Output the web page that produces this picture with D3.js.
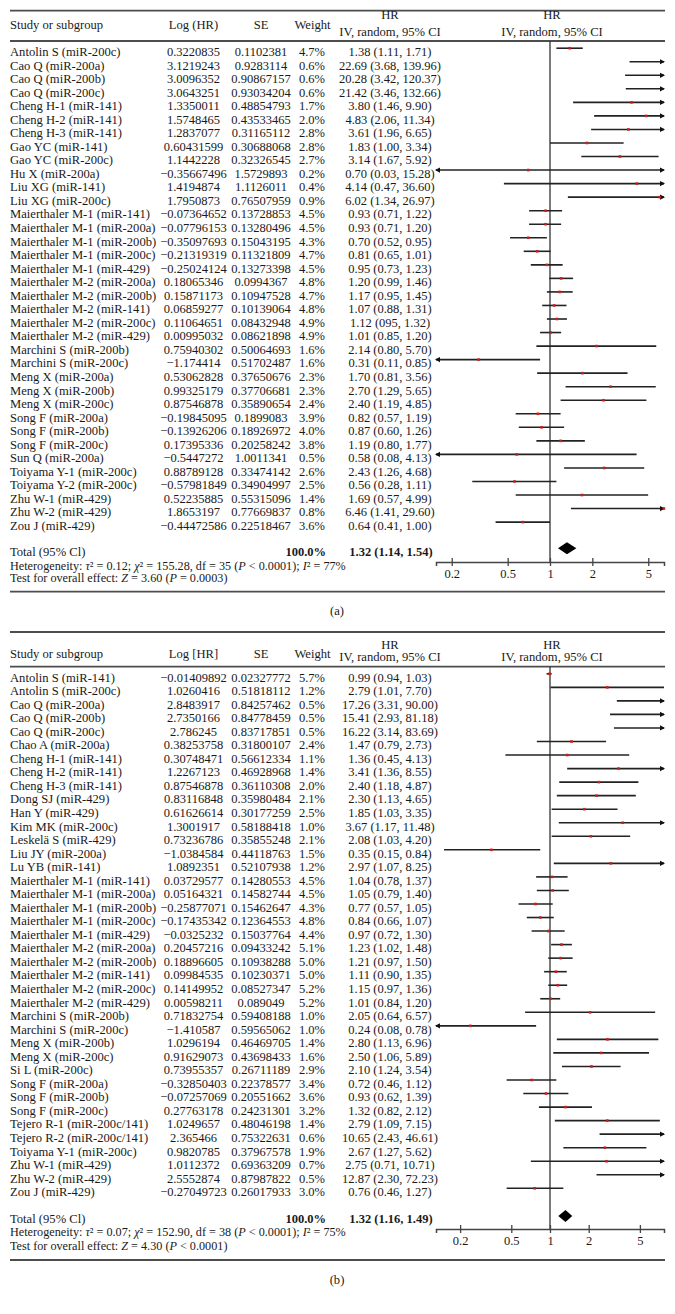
<!DOCTYPE html>
<html lang="en">
<head>
<meta charset="utf-8">
<script src="https://cdn.jsdelivr.net/npm/d3@7"></script>
<style>
  body { margin: 0; background: #fff; }
  svg text { font-family: "Liberation Serif", "Times New Roman", serif; font-size: 12.6px; fill: #1a1a1a; }
  svg text.num { font-size: 12.5px; }
  svg text.note { font-size: 12.2px; }
</style>
</head>
<body>
<script>
// ---- panel (a) ----
const studiesA = ["Antolin S (miR-200c)", "Cao Q (miR-200a)", "Cao Q (miR-200b)", "Cao Q (miR-200c)",
  "Cheng H-1 (miR-141)", "Cheng H-2 (miR-141)", "Cheng H-3 (miR-141)", "Gao YC (miR-141)", "Gao YC (miR-200c)",
  "Hu X (miR-200a)", "Liu XG (miR-141)", "Liu XG (miR-200c)", "Maierthaler M-1 (miR-141)",
  "Maierthaler M-1 (miR-200a)", "Maierthaler M-1 (miR-200b)", "Maierthaler M-1 (miR-200c)",
  "Maierthaler M-1 (miR-429)", "Maierthaler M-2 (miR-200a)", "Maierthaler M-2 (miR-200b)",
  "Maierthaler M-2 (miR-141)", "Maierthaler M-2 (miR-200c)", "Maierthaler M-2 (miR-429)",
  "Marchini S (miR-200b)", "Marchini S (miR-200c)", "Meng X (miR-200a)", "Meng X (miR-200b)",
  "Meng X (miR-200c)", "Song F (miR-200a)", "Song F (miR-200b)", "Song F (miR-200c)", "Sun Q (miR-200a)",
  "Toiyama Y-1 (miR-200c)", "Toiyama Y-2 (miR-200c)", "Zhu W-1 (miR-429)", "Zhu W-2 (miR-429)", "Zou J (miR-429)"];
const logHrA = [0.3220835, 3.1219243, 3.0096352, 3.0643251, 1.3350011, 1.5748465, 1.2837077, 0.60431599, 1.1442228,
  -0.35667496, 1.4194874, 1.7950873, -0.07364652, -0.07796153, -0.35097693, -0.21319319, -0.25024124, 0.18065346,
  0.15871173, 0.06859277, 0.11064651, 0.00995032, 0.75940302, -1.174414, 0.53062828, 0.99325179, 0.87546878,
  -0.19845095, -0.13926206, 0.17395336, -0.5447272, 0.88789128, -0.57981849, 0.52235885, 1.8653197, -0.44472586];
const seA = [0.1102381, 0.9283114, 0.90867157, 0.93034204, 0.48854793, 0.43533465, 0.31165112, 0.30688068, 0.32326545,
  1.5729893, 1.1126011, 0.76507959, 0.13728853, 0.13280496, 0.15043195, 0.11321809, 0.13273398, 0.0994367,
  0.10947528, 0.10139064, 0.08432948, 0.08621898, 0.50064693, 0.51702487, 0.37650676, 0.37706681, 0.35890654,
  0.1899083, 0.18926972, 0.20258242, 1.0011341, 0.33474142, 0.34904997, 0.55315096, 0.77669837, 0.22518467];
const weightA = [4.7, 0.6, 0.6, 0.6, 1.7, 2.0, 2.8, 2.8, 2.7, 0.2, 0.4, 0.9, 4.5, 4.5, 4.3, 4.7, 4.5, 4.8, 4.7, 4.8,
  4.9, 4.9, 1.6, 1.6, 2.3, 2.3, 2.4, 3.9, 4.0, 3.8, 0.5, 2.6, 2.5, 1.4, 0.8, 3.6];
const hrA = [1.38, 22.69, 20.28, 21.42, 3.80, 4.83, 3.61, 1.83, 3.14, 0.70, 4.14, 6.02, 0.93, 0.93, 0.70, 0.81, 0.95,
  1.20, 1.17, 1.07, 1.12, 1.01, 2.14, 0.31, 1.70, 2.70, 2.40, 0.82, 0.87, 1.19, 0.58, 2.43, 0.56, 1.69, 6.46, 0.64];
const loA = [1.11, 3.68, 3.42, 3.46, 1.46, 2.06, 1.96, 1.00, 1.67, 0.03, 0.47, 1.34, 0.71, 0.71, 0.52, 0.65, 0.73,
  0.99, 0.95, 0.88, 0.95, 0.85, 0.80, 0.11, 0.81, 1.29, 1.19, 0.57, 0.60, 0.80, 0.08, 1.26, 0.28, 0.57, 1.41, 0.41];
const hiA = [1.71, 139.96, 120.37, 132.66, 9.90, 11.34, 6.65, 3.34, 5.92, 15.28, 36.60, 26.97, 1.22, 1.20, 0.95, 1.01,
  1.23, 1.46, 1.45, 1.31, 1.32, 1.20, 5.70, 0.85, 3.56, 5.65, 4.85, 1.19, 1.26, 1.77, 4.13, 4.68, 1.11, 4.99, 29.60, 1.00];
// printed HR text (keeps the source's "095")
const ciTextA = ["1.38 (1.11, 1.71)", "22.69 (3.68, 139.96)", "20.28 (3.42, 120.37)", "21.42 (3.46, 132.66)",
  "3.80 (1.46, 9.90)", "4.83 (2.06, 11.34)", "3.61 (1.96, 6.65)", "1.83 (1.00, 3.34)", "3.14 (1.67, 5.92)",
  "0.70 (0.03, 15.28)", "4.14 (0.47, 36.60)", "6.02 (1.34, 26.97)", "0.93 (0.71, 1.22)", "0.93 (0.71, 1.20)",
  "0.70 (0.52, 0.95)", "0.81 (0.65, 1.01)", "0.95 (0.73, 1.23)", "1.20 (0.99, 1.46)", "1.17 (0.95, 1.45)",
  "1.07 (0.88, 1.31)", "1.12 (095, 1.32)", "1.01 (0.85, 1.20)", "2.14 (0.80, 5.70)", "0.31 (0.11, 0.85)",
  "1.70 (0.81, 3.56)", "2.70 (1.29, 5.65)", "2.40 (1.19, 4.85)", "0.82 (0.57, 1.19)", "0.87 (0.60, 1.26)",
  "1.19 (0.80, 1.77)", "0.58 (0.08, 4.13)", "2.43 (1.26, 4.68)", "0.56 (0.28, 1.11)", "1.69 (0.57, 4.99)",
  "6.46 (1.41, 29.60)", "0.64 (0.41, 1.00)"];
const totalA = [1.32, 1.14, 1.54];
const hetA = ["0.12", "155.28", "35", "< 0.0001", "77%"];
const testA = ["3.60", "= 0.0003"];

// ---- panel (b) ----
const studiesB = ["Antolin S (miR-141)", "Antolin S (miR-200c)", "Cao Q (miR-200a)", "Cao Q (miR-200b)",
  "Cao Q (miR-200c)", "Chao A (miR-200a)", "Cheng H-1 (miR-141)", "Cheng H-2 (miR-141)", "Cheng H-3 (miR-141)",
  "Dong SJ (miR-429)", "Han Y (miR-429)", "Kim MK (miR-200c)", "Leskelä S (miR-429)", "Liu JY (miR-200a)",
  "Lu YB (miR-141)", "Maierthaler M-1 (miR-141)", "Maierthaler M-1 (miR-200a)", "Maierthaler M-1 (miR-200b)",
  "Maierthaler M-1 (miR-200c)", "Maierthaler M-1 (miR-429)", "Maierthaler M-2 (miR-200a)",
  "Maierthaler M-2 (miR-200b)", "Maierthaler M-2 (miR-141)", "Maierthaler M-2 (miR-200c)",
  "Maierthaler M-2 (miR-429)", "Marchini S (miR-200b)", "Marchini S (miR-200c)", "Meng X (miR-200b)",
  "Meng X (miR-200c)", "Si L (miR-200c)", "Song F (miR-200a)", "Song F (miR-200b)", "Song F (miR-200c)",
  "Tejero R-1 (miR-200c/141)", "Tejero R-2 (miR-200c/141)", "Toiyama Y-1 (miR-200c)", "Zhu W-1 (miR-429)",
  "Zhu W-2 (miR-429)", "Zou J (miR-429)"];
const logHrB = [-0.01409892, 1.0260416, 2.8483917, 2.7350166, 2.786245, 0.38253758, 0.30748471, 1.2267123, 0.87546878,
  0.83116848, 0.61626614, 1.3001917, 0.73236786, -1.0384584, 1.0892351, 0.03729577, 0.05164321, -0.25877071,
  -0.17435342, -0.0325232, 0.20457216, 0.18896605, 0.09984535, 0.14149952, 0.00598211, 0.71832754, -1.410587,
  1.0296194, 0.91629073, 0.73955357, -0.32850403, -0.07257069, 0.27763178, 1.0249657, 2.365466, 0.9820785,
  1.0112372, 2.5552874, -0.27049723];
const seB = [0.02327772, 0.51818112, 0.84257462, 0.84778459, 0.83717851, 0.31800107, 0.56612334, 0.46928968, 0.36110308,
  0.35980484, 0.30177259, 0.58188418, 0.35855248, 0.44118763, 0.52107938, 0.14280553, 0.14582744, 0.15462647,
  0.12364553, 0.15037764, 0.09433242, 0.10938288, 0.10230371, 0.08527347, 0.089049, 0.59408188, 0.59565062,
  0.46469705, 0.43698433, 0.26711189, 0.22378577, 0.20551662, 0.24231301, 0.48046198, 0.75322631, 0.37967578,
  0.69363209, 0.87987822, 0.26017933];
const weightB = [5.7, 1.2, 0.5, 0.5, 0.5, 2.4, 1.1, 1.4, 2.0, 2.1, 2.5, 1.0, 2.1, 1.5, 1.2, 4.5, 4.5, 4.3, 4.8, 4.4,
  5.1, 5.0, 5.0, 5.2, 5.2, 1.0, 1.0, 1.4, 1.6, 2.9, 3.4, 3.6, 3.2, 1.4, 0.6, 1.9, 0.7, 0.5, 3.0];
const hrB = [0.99, 2.79, 17.26, 15.41, 16.22, 1.47, 1.36, 3.41, 2.40, 2.30, 1.85, 3.67, 2.08, 0.35, 2.97, 1.04, 1.05,
  0.77, 0.84, 0.97, 1.23, 1.21, 1.11, 1.15, 1.01, 2.05, 0.24, 2.80, 2.50, 2.10, 0.72, 0.93, 1.32, 2.79, 10.65, 2.67,
  2.75, 12.87, 0.76];
const loB = [0.94, 1.01, 3.31, 2.93, 3.14, 0.79, 0.45, 1.36, 1.18, 1.13, 1.03, 1.17, 1.03, 0.15, 1.07, 0.78, 0.79,
  0.57, 0.66, 0.72, 1.02, 0.97, 0.90, 0.97, 0.84, 0.64, 0.08, 1.13, 1.06, 1.24, 0.46, 0.62, 0.82, 1.09, 2.43, 1.27,
  0.71, 2.30, 0.46];
const hiB = [1.03, 7.70, 90.00, 81.18, 83.69, 2.73, 4.13, 8.55, 4.87, 4.65, 3.35, 11.48, 4.20, 0.84, 8.25, 1.37, 1.40,
  1.05, 1.07, 1.30, 1.48, 1.50, 1.35, 1.36, 1.20, 6.57, 0.78, 6.96, 5.89, 3.54, 1.12, 1.39, 2.12, 7.15, 46.61, 5.62,
  10.71, 72.23, 1.27];
const totalB = [1.32, 1.16, 1.49];
const hetB = ["0.07", "152.90", "38", "< 0.0001", "75%"];
const testB = ["4.30", "< 0.0001"];

const tickValues = [0.2, 0.5, 1, 2, 5];

const W = 675, H = 1314;
const pitch = 13.54;
const f2 = d3.format(".2f");
const num = v => String(v).replace("-", "\u2212");

const svg = d3.select("body").append("svg")
  .attr("width", W)
  .attr("height", H);

// text center -> baseline
const ty = c => c + 4.3;

function rule(g, y) {
  g.append("line")
    .attr("x1", 10).attr("x2", 665)
    .attr("y1", y).attr("y2", y)
    .attr("stroke", "#4d4d4d").attr("stroke-width", 1.8);
}

function label(g, x, y, s, anchor, cls) {
  return g.append("text")
    .attr("class", cls || null)
    .attr("x", x).attr("y", ty(y))
    .attr("text-anchor", anchor || "start")
    .text(s);
}

function richText(g, x, y, parts) {
  const t = g.append("text").attr("class", "note").attr("x", x).attr("y", ty(y));
  parts.forEach(p => t.append("tspan").text(p[0]).style("font-style", p[1] ? "italic" : null));
}

function drawPanel(p) {
  const g = svg.append("g");
  const x = d3.scaleLog().domain([1 / p.max, p.max]).range([436, 664]);
  const [dMin, dMax] = x.domain();
  const rowY = i => p.row0 + i * pitch;

  rule(g, p.top);
  rule(g, p.headRule);
  rule(g, p.bottom);

  // header
  label(g, 10, p.headY, "Study or subgroup");
  label(g, 193.5, p.headY, p.logTitle, "middle");
  label(g, 261, p.headY, "SE", "middle");
  label(g, 312.5, p.headY, "Weight", "middle");
  [390, 552].forEach(cx => {
    label(g, cx, p.hr1, "HR", "middle");
    label(g, cx, p.hr2, "IV, random, 95% CI", "middle");
  });

  // table rows
  p.studies.forEach((s, i) => {
    label(g, 10, rowY(i), s);
    label(g, 193.5, rowY(i), num(p.logHr[i]), "middle", "num");
    label(g, 261, rowY(i), num(p.se[i]), "middle", "num");
    label(g, 325, rowY(i), p.weight[i].toFixed(1) + "%", "end", "num");
    label(g, 390, rowY(i), p.ciText[i], "middle", "num");
  });

  // reference line at HR = 1
  g.append("line")
    .attr("x1", x(1)).attr("x2", x(1))
    .attr("y1", p.headRule).attr("y2", p.axisY)
    .attr("stroke", "#333").attr("stroke-width", 1.3);

  // confidence intervals
  const ci = g.append("g");
  p.studies.forEach((s, i) => {
    const y = rowY(i) - 3.5;
    const lo = Math.max(p.lo[i], dMin), hi = Math.min(p.hi[i], dMax);
    const x1 = x(lo), x2 = x(hi);
    ci.append("line")
      .attr("x1", x1).attr("x2", x2).attr("y1", y).attr("y2", y)
      .attr("stroke", "#222").attr("stroke-width", 1.6);
    if (p.hi[i] > dMax * 1.001) {
      ci.append("path")
        .attr("d", `M${x2 + 1},${y} l-5,-2.6 l0,5.2 z`)
        .attr("fill", "#111");
    }
    if (p.lo[i] < dMin * 0.999) {
      ci.append("path")
        .attr("d", `M${x1 - 1},${y} l5,-2.6 l0,5.2 z`)
        .attr("fill", "#111");
    }
    if (p.hr[i] >= dMin && p.hr[i] <= dMax) {
      ci.append("rect")
        .attr("x", x(p.hr[i]) - 1.3).attr("y", y - 1.3)
        .attr("width", 2.6).attr("height", 2.6)
        .attr("fill", "#d01c1c");
    }
  });

  // total row
  label(g, 10, p.totalY, "Total (95% Cl)");
  label(g, 326, p.totalY, "100.0%", "end", "num").style("font-weight", "bold");
  label(g, 391, p.totalY, `${f2(p.total[0])} (${f2(p.total[1])}, ${f2(p.total[2])})`, "middle", "num")
    .style("font-weight", "bold");
  const dy = p.diamondY;
  g.append("path")
    .attr("d", `M${x(p.total[1])},${dy} L${x(p.total[0])},${dy - 6} L${x(p.total[2])},${dy} L${x(p.total[0])},${dy + 6} Z`)
    .attr("fill", "#000");

  richText(g, 10, p.hetY, [
    ["Heterogeneity: ", 0], ["\u03c4", 1], [`\u00b2 = ${p.het[0]}; `, 0], ["\u03c7", 1],
    [`\u00b2 = ${p.het[1]}, df = ${p.het[2]} (`, 0], ["P", 1], [` ${p.het[3]}); `, 0], ["I", 1],
    [`\u00b2 = ${p.het[4]}`, 0]
  ]);
  richText(g, 10, p.testY, [
    ["Test for overall effect: ", 0], ["Z", 1], [` = ${p.test[0]} (`, 0], ["P", 1], [` ${p.test[1]})`, 0]
  ]);

  // axis
  const axis = g.append("g")
    .attr("transform", `translate(0,${p.axisY})`)
    .call(d3.axisBottom(x).tickValues(tickValues).tickFormat(d => d).tickSizeOuter(0).tickSize(4));
  axis.select(".domain").attr("stroke", "#444").attr("stroke-width", 1.5);
  axis.selectAll(".tick line").attr("y1", -4).attr("y2", 4).attr("stroke", "#444").attr("stroke-width", 1.3);
  axis.selectAll(".tick text")
    .attr("class", "num")
    .attr("y", ty(p.tickLabelY - p.axisY)).attr("dy", null);

  label(g, 337, p.tagY, p.tag, "middle");
}

drawPanel({
  studies: studiesA, logHr: logHrA, se: seA, weight: weightA, hr: hrA, lo: loA, hi: hiA, ciText: ciTextA,
  total: totalA, het: hetA, test: testA, logTitle: "Log (HR)", tag: "(a)", max: 6.47,
  top: 10.7, headY: 25, hr1: 15, hr2: 31.7, headRule: 41, row0: 51.7,
  totalY: 551.7, diamondY: 548.3, hetY: 565.3, testY: 577.9, axisY: 562, tickLabelY: 574,
  bottom: 591.7, tagY: 610.7
});

drawPanel({
  studies: studiesB, logHr: logHrB, se: seB, weight: weightB, hr: hrB, lo: loB, hi: hiB,
  ciText: hrB.map((h, i) => `${f2(h)} (${f2(loB[i])}, ${f2(hiB[i])})`),
  total: totalB, het: hetB, test: testB, logTitle: "Log [HR]", tag: "(b)", max: 7.7,
  top: 632, headY: 654, hr1: 645, hr2: 656.7, headRule: 666.7, row0: 677.3,
  totalY: 1218.3, diamondY: 1216, hetY: 1231.3, testY: 1245.5, axisY: 1229, tickLabelY: 1240.7,
  bottom: 1260, tagY: 1280
});
</script>
</body>
</html>
